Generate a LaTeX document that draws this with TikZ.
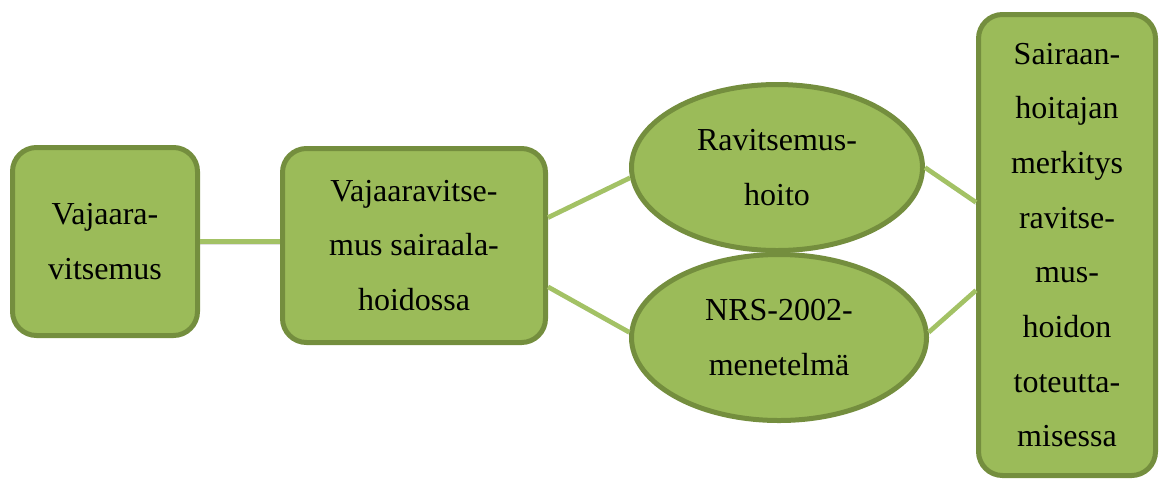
\documentclass[tikz,border=0pt]{standalone}
\usepackage{fontspec}
\setmainfont{Liberation Serif}
\usetikzlibrary{shapes.geometric, positioning}

\definecolor{leaf}{HTML}{9BBB59}
\definecolor{leafdark}{HTML}{748E3E}
\definecolor{leaflight}{HTML}{A3C265}

\tikzset{
	topic/.style={draw=leafdark, fill=leaf, line width=3.75pt, rounded corners=18pt,
		align=center, inner sep=0pt, font=\fontsize{24}{41}\selectfont},
	method/.style={ellipse, draw=leafdark, fill=leaf, line width=3.75pt,
		align=center, inner sep=0pt, font=\fontsize{24}{41}\selectfont},
	link/.style={draw=leaflight, line width=3.5pt,
		preaction={draw=black, opacity=0.12, transform canvas={yshift=-1.8pt}}}
}

\begin{document}
\begin{tikzpicture}[x=0.75pt, y=-0.75pt]
	\useasboundingbox (0,0) rectangle (1159,480);

	\node[topic, minimum width=138.75pt, minimum height=141pt] (v1) at (105,241.5) {Vajaara-\\vitsemus};
	\node[topic, right=60pt of v1, yshift=-3pt, minimum width=197.25pt, minimum height=145.5pt] (v2) {Vajaaravitse-\\mus sairaala-\\hoidossa};
	\node[method, minimum width=218.25pt, minimum height=124.5pt] (r1) at (777,167.5) {Ravitsemus-\\hoito};
	\node[method, minimum width=221.25pt, minimum height=124.5pt] (n2) at (779,337.5) {NRS-2002-\\menetelmä};
	\node[topic, minimum width=132.75pt, minimum height=345.75pt] (s3) at (1067,245) {Sairaan-\\hoitajan\\merkitys\\ravitse-\\mus-\\hoidon\\toteutta-\\misessa};

	\draw[link] (v1.east) -- (v1.east -| v2.west);
	\draw[link] ([yshift=21pt]v2.east) -- (r1.184);
	\draw[link] ([yshift=-31pt]v2.east) -- (n2.178);
	\draw[link] (r1.east) -- ([yshift=32pt]s3.west);
	\draw[link] (n2.2) -- ([yshift=-34pt]s3.west);
\end{tikzpicture}
\end{document}
